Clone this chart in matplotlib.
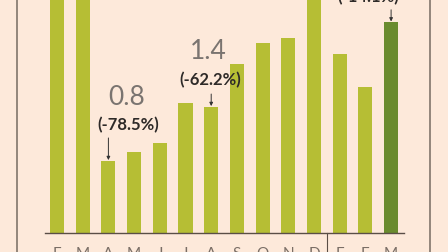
import matplotlib
matplotlib.use("Agg")
import matplotlib.pyplot as plt

# monthly values (bars cut off at top are estimates)
months = ["F", "M", "A", "M", "J", "J", "A", "S", "O", "N", "D", "E", "F", "M"]
values = [3.7, 3.4, 0.8, 0.9, 1.0, 1.44, 1.4, 1.88, 2.11, 2.17, 2.8, 1.99, 1.62, 2.34]
highlight = 13

# annotations: bar index, value text, change text
notes = [(2, "0.8", "(-78.5%)"), (6, "1.4", "(-62.2%)"), (13, "", "(-14.1%)")]

bg = "#fde9da"
bar_color = "#b6be34"
dark_color = "#6a8b2e"
line_color = "#8a7e74"

fig = plt.figure(figsize=(4.48, 2.52), dpi=100, facecolor=bg)
ax = fig.add_axes([0, 0, 1, 1])
ax.set_facecolor(bg)

# pixel-ish mapping: bar spacing 25.7px, 90px per unit
ax.set_xlim(-57 / 25.7, (448 - 57) / 25.7)
ax.set_ylim(-19 / 90, 233 / 90)
ax.axis("off")

x = list(range(len(values)))
colors = [dark_color if i == highlight else bar_color for i in x]
ax.bar(x, values, width=0.55, color=colors, zorder=2)

# baseline and year divider
ax.plot([-0.47, 13.5], [0, 0], color="#5a4e46", lw=1.0, zorder=3)
ax.plot([10.5, 10.5], [0, -0.3], color="#5a4e46", lw=0.8, zorder=3)

# frame lines
ax.axvline(-1.556, color=line_color, lw=1.3)
ax.axvline(14.51, color=line_color, lw=1.3)

# month labels sit partly below the bottom edge, as in the reference
for i, m in enumerate(months):
    ax.text(i, -0.155, m, ha="center", va="top", fontsize=11,
            family="Lato", fontweight="normal", color="#7a6e66")

# value / change annotations
label_pos = {
    2: (2.72, 1.51, 2.76, 1.20, 1.056),
    6: (5.88, 2.02, 5.95, 1.70, 1.544),
    13: (12.1, 2.95, 12.1, 2.62, 2.48),
}
for idx, val_txt, chg_txt in notes:
    vx, vy, cx, cy, ay = label_pos[idx]
    if val_txt:
        ax.text(vx, vy, val_txt, ha="center", va="center", fontsize=19,
                family="Lato", fontweight="normal", color="#7a7470")
    ax.text(cx, cy, chg_txt, ha="center", va="center", fontsize=12,
            family="Lato", fontweight="bold", color="#2e2a28")
    ax.annotate("", xy=(idx, values[idx] + 0.01), xytext=(idx, ay),
                arrowprops=dict(arrowstyle="-|>", lw=0.7, color="#333333",
                                mutation_scale=5, shrinkA=0, shrinkB=0),
                zorder=4)

fig.savefig("out.png", dpi=100, facecolor=bg)
